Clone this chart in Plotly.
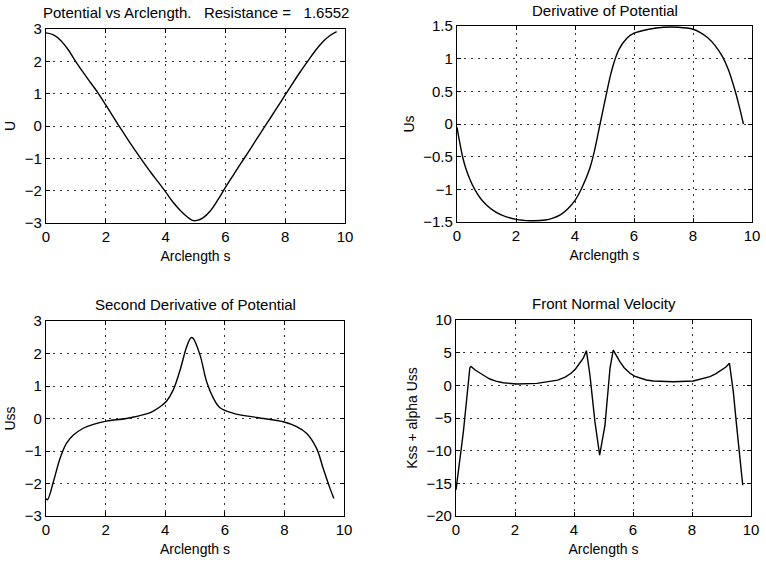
import plotly.graph_objects as go

# Potential U vs arclength
s_u = [0, 0.25, 0.5, 0.75, 1.0, 1.25, 1.5, 1.75, 2.0, 2.25, 2.5, 2.75, 3.0, 3.25, 3.5, 3.75,
       4.0, 4.25, 4.5, 4.75, 4.9, 5.05, 5.25, 5.5, 5.75, 6.0, 6.25, 6.5, 6.75, 7.0, 7.25, 7.5,
       7.75, 8.0, 8.25, 8.5, 8.75, 9.0, 9.25, 9.5, 9.72]
u = [2.88, 2.82, 2.64, 2.35, 1.98, 1.65, 1.33, 1.01, 0.65, 0.28, -0.08, -0.44, -0.78, -1.11,
     -1.43, -1.73, -2.04, -2.36, -2.62, -2.83, -2.92, -2.92, -2.84, -2.62, -2.28, -1.9, -1.54,
     -1.18, -0.83, -0.47, -0.11, 0.24, 0.6, 0.96, 1.32, 1.67, 2.0, 2.32, 2.6, 2.8, 2.92]

# first derivative Us
s_us = [0, 0.1, 0.2, 0.3, 0.45, 0.6, 0.8, 1.0, 1.25, 1.5, 2.0, 2.5, 3.0, 3.25, 3.5, 3.75, 4.0,
        4.25, 4.5, 4.65, 4.85, 5.05, 5.2, 5.35, 5.5, 5.75, 6.0, 6.5, 7.0, 7.5, 8.0, 8.25, 8.5,
        8.75, 9.0, 9.2, 9.4, 9.55, 9.71]
us = [-0.05, -0.3, -0.52, -0.68, -0.86, -1.0, -1.14, -1.24, -1.33, -1.39, -1.46, -1.48, -1.47,
      -1.44, -1.39, -1.3, -1.17, -0.96, -0.68, -0.43, 0.0, 0.43, 0.74, 0.98, 1.15, 1.31, 1.39,
      1.45, 1.48, 1.48, 1.45, 1.4, 1.32, 1.2, 1.03, 0.83, 0.55, 0.3, 0.0]

# second derivative Uss
s_uss = [0, 0.05, 0.25, 0.47, 0.69, 0.92, 1.25, 1.59, 2.03, 2.7, 3.37, 3.6, 3.83, 4.05, 4.27,
         4.5, 4.72, 4.87, 4.94, 5.17, 5.39, 5.62, 5.84, 6.29, 7.07, 7.96, 8.41, 8.75, 9.08, 9.3,
         9.53, 9.66]
uss = [-2.46, -2.5, -1.94, -1.23, -0.76, -0.51, -0.3, -0.18, -0.08, 0.0, 0.14, 0.23, 0.36, 0.54,
       0.88, 1.49, 2.21, 2.49, 2.46, 1.95, 1.13, 0.62, 0.33, 0.16, 0.03, -0.1, -0.25, -0.46, -0.92,
       -1.53, -2.15, -2.46]

# front normal velocity Kss + alpha Uss
s_v = [0, 0.25, 0.47, 0.51, 0.65, 0.81, 1.0, 1.15, 1.35, 1.6, 2.06, 2.74, 3.45, 3.7, 3.9, 4.05,
       4.2, 4.32, 4.42, 4.54, 4.71, 4.87, 5.05, 5.22, 5.33, 5.45, 5.56, 5.7, 5.9, 6.05, 6.24,
       6.45, 6.69, 7.37, 8.04, 8.61, 8.8, 9.01, 9.15, 9.27, 9.4, 9.51, 9.63, 9.72]
v = [-16.0, -7.1, 2.7, 2.9, 2.35, 1.84, 1.35, 0.97, 0.65, 0.4, 0.2, 0.3, 0.8, 1.25, 1.84, 2.5,
     3.37, 4.2, 5.3, 1.58, -5.6, -10.7, -6.1, 2.6, 5.4, 4.4, 3.6, 2.7, 1.84, 1.4, 1.07,
     0.82, 0.66, 0.55, 0.66, 1.33, 1.75, 2.35, 2.8, 3.37, -0.97, -6.1, -11.7, -15.3]

FONT = "Liberation Sans, Arial, sans-serif"
W, H = 766, 562
SP = "\u00a0"


def px_x(p):
    return p / W


def px_y(p):
    return 1 - p / H


panels = [
    # x, y, line shape, x domain (px), y domain (px top, bottom), y range, dtick, title, y title, title y
    (s_u, u, "spline", (46, 345), (29, 223), [-3, 3], 1,
     f"Potential vs Arclength.{SP * 3}Resistance ={SP * 3}1.6552", "U", 12),
    (s_us, us, "spline", (457, 752), (26, 222), [-1.5, 1.5], 0.5,
     "Derivative of Potential", "Us", 11),
    (s_uss, uss, "spline", (46, 344), (321, 516), [-3, 3], 1,
     "Second Derivative of Potential", "Uss", 304),
    (s_v, v, "linear", (456, 751), (320, 516), [-20, 10], 5,
     "Front Normal Velocity", "Kss + alpha Uss", 303),
]

fig = go.Figure()
annotations = []
for i, (xs, ys, shape, xd, yd, yr, dt, title, ytitle, ty) in enumerate(panels, start=1):
    xa = "x" if i == 1 else f"x{i}"
    ya = "y" if i == 1 else f"y{i}"
    fig.add_trace(go.Scatter(x=xs, y=ys, mode="lines", xaxis=xa, yaxis=ya,
                             line=dict(color="black", width=1.4, shape=shape, smoothing=1.0),
                             showlegend=False))
    axis_common = dict(showline=True, linecolor="black", linewidth=1.3, mirror="ticks",
                       ticks="inside", ticklen=4, tickcolor="black", showgrid=True,
                       gridcolor="#333", gridwidth=1, griddash="2px,5px", zeroline=False,
                       automargin=False, ticklabeloverflow="allow",
                       tickfont=dict(size=15, color="black", family=FONT),
                       title_font=dict(size=14, color="black", family=FONT))
    fig.layout[f"xaxis{'' if i == 1 else i}"] = dict(
        axis_common, domain=[px_x(xd[0]), px_x(xd[1])], range=[0, 10], dtick=2,
        anchor=ya, title=dict(text="Arclength s", standoff=7))
    fig.layout[f"yaxis{'' if i == 1 else i}"] = dict(
        axis_common, domain=[px_y(yd[1]), px_y(yd[0])], range=yr, dtick=dt,
        anchor=xa, title=dict(text=ytitle, standoff=5))
    annotations.append(dict(text=title, x=px_x((xd[0] + xd[1]) / 2), y=px_y(ty),
                            xref="paper", yref="paper", showarrow=False,
                            xanchor="center", yanchor="middle",
                            font=dict(size=15, color="black", family=FONT)))

fig.update_layout(width=W, height=H, margin=dict(l=0, r=0, t=0, b=0),
                  template="none", plot_bgcolor="white", paper_bgcolor="white",
                  font=dict(family=FONT, color="black"), annotations=annotations)
# drop the page's default body margin so the figure sits at the window corner
fig.write_html("out.html", config={"displayModeBar": False},
               post_script="document.body.style.margin='0';")
